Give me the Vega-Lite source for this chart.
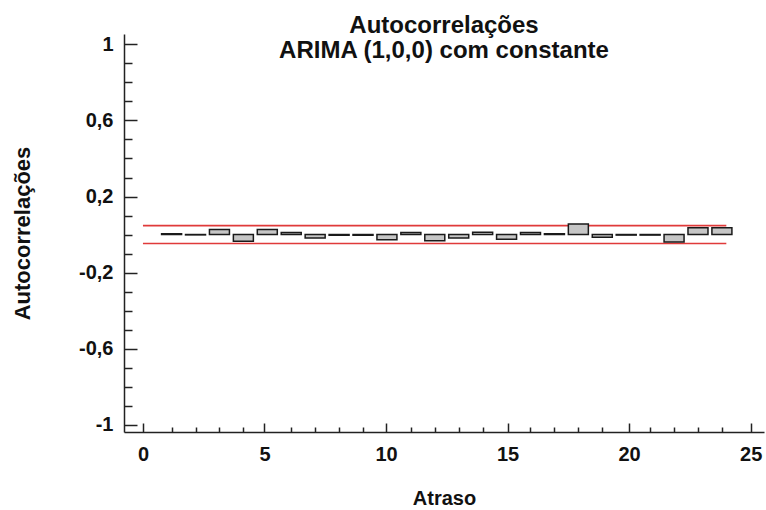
{
  "$schema": "https://vega.github.io/schema/vega-lite/v6.json",
  "width": 640,
  "height": 398,
  "autosize": "none",
  "padding": {"left": 124, "top": 34, "right": 2, "bottom": 78},
  "background": "white",
  "config": {"view": {"stroke": null}, "font": "Liberation Sans"},
  "title": {
    "text": ["Autocorrelações", "ARIMA (1,0,0) com constante"],
    "font": "Liberation Sans",
    "fontWeight": "bold",
    "fontSize": 24,
    "lineHeight": 25,
    "color": "#111111",
    "anchor": "middle",
    "offset": -29
  },
  "datasets": {
    "acf": [
      {"lag": 1, "acf": 0.004},
      {"lag": 2, "acf": -0.002},
      {"lag": 3, "acf": 0.026},
      {"lag": 4, "acf": -0.035},
      {"lag": 5, "acf": 0.026},
      {"lag": 6, "acf": 0.01},
      {"lag": 7, "acf": -0.018},
      {"lag": 8, "acf": -0.004},
      {"lag": 9, "acf": -0.004},
      {"lag": 10, "acf": -0.028},
      {"lag": 11, "acf": 0.01},
      {"lag": 12, "acf": -0.033},
      {"lag": 13, "acf": -0.018},
      {"lag": 14, "acf": 0.012},
      {"lag": 15, "acf": -0.025},
      {"lag": 16, "acf": 0.01},
      {"lag": 17, "acf": 0.004},
      {"lag": 18, "acf": 0.056},
      {"lag": 19, "acf": -0.015},
      {"lag": 20, "acf": -0.003},
      {"lag": 21, "acf": -0.003},
      {"lag": 22, "acf": -0.04},
      {"lag": 23, "acf": 0.035},
      {"lag": 24, "acf": 0.035}
    ],
    "limits": [
      {"start": 0, "end": 24, "limit": 0.047},
      {"start": 0, "end": 24, "limit": -0.047}
    ]
  },
  "layer": [
    {
      "data": {"name": "limits"},
      "mark": {"type": "rule", "color": "#e03a3a", "strokeWidth": 1.6},
      "encoding": {
        "x": {
          "field": "start",
          "type": "quantitative",
          "scale": {"domain": [-0.78, 25.55], "nice": false, "zero": false},
          "axis": {
            "orient": "bottom",
            "values": [0, 5, 10, 15, 20, 25],
            "grid": false,
            "tickSize": -9,
            "tickWidth": 1.5,
            "tickColor": "#222222",
            "domainColor": "#222222",
            "domainWidth": 1.5,
            "labelFont": "Liberation Sans",
            "labelFontWeight": "bold",
            "labelFontSize": 20,
            "labelColor": "#111111",
            "labelPadding": 21,
            "title": "Atraso",
            "titleFont": "Liberation Sans",
            "titleFontWeight": "bold",
            "titleFontSize": 20,
            "titleColor": "#111111",
            "titlePadding": 24
          }
        },
        "x2": {"field": "end"},
        "y": {
          "field": "limit",
          "type": "quantitative",
          "scale": {"domain": [-1.039, 1.055], "nice": false, "zero": false},
          "axis": {
            "orient": "left",
            "values": [-1, -0.6, -0.2, 0.2, 0.6, 1],
            "labelExpr": "replace(toString(datum.value), '.', ',')",
            "grid": false,
            "tickSize": -13,
            "tickWidth": 1.5,
            "tickColor": "#222222",
            "domainColor": "#222222",
            "domainWidth": 1.5,
            "labelFont": "Liberation Sans",
            "labelFontWeight": "bold",
            "labelFontSize": 20,
            "labelColor": "#111111",
            "labelPadding": 24,
            "title": "Autocorrelações",
            "titleFont": "Liberation Sans",
            "titleFontWeight": "bold",
            "titleFontSize": 22,
            "titleColor": "#111111",
            "titlePadding": 44
          }
        }
      }
    },
    {
      "data": {"name": "acf"},
      "mark": {"type": "bar", "size": 20, "orient": "vertical", "fill": "#c6c6c6", "stroke": "#1a1a1a", "strokeWidth": 1.5},
      "encoding": {
        "x": {
          "field": "lag",
          "type": "quantitative",
          "scale": {"domain": [-0.78, 25.55], "nice": false, "zero": false},
          "axis": {
            "orient": "bottom",
            "values": [1, 2, 3, 4, 6, 7, 8, 9, 11, 12, 13, 14, 16, 17, 18, 19, 21, 22, 23, 24],
            "grid": false,
            "domain": false,
            "labels": false,
            "title": null,
            "tickSize": -5,
            "tickWidth": 1.5,
            "tickColor": "#222222"
          }
        },
        "y": {
          "field": "acf",
          "type": "quantitative",
          "scale": {"domain": [-1.039, 1.055], "nice": false, "zero": false},
          "axis": {
            "orient": "left",
            "values": [-0.9, -0.8, -0.7, -0.5, -0.4, -0.3, -0.1, 0, 0.1, 0.3, 0.4, 0.5, 0.7, 0.8, 0.9],
            "grid": false,
            "domain": false,
            "labels": false,
            "title": null,
            "tickSize": -8,
            "tickWidth": 1.5,
            "tickColor": "#222222"
          }
        },
        "y2": {"datum": 0}
      }
    }
  ],
  "resolve": {
    "scale": {"x": "independent", "y": "independent"},
    "axis": {"x": "independent", "y": "independent"}
  }
}
